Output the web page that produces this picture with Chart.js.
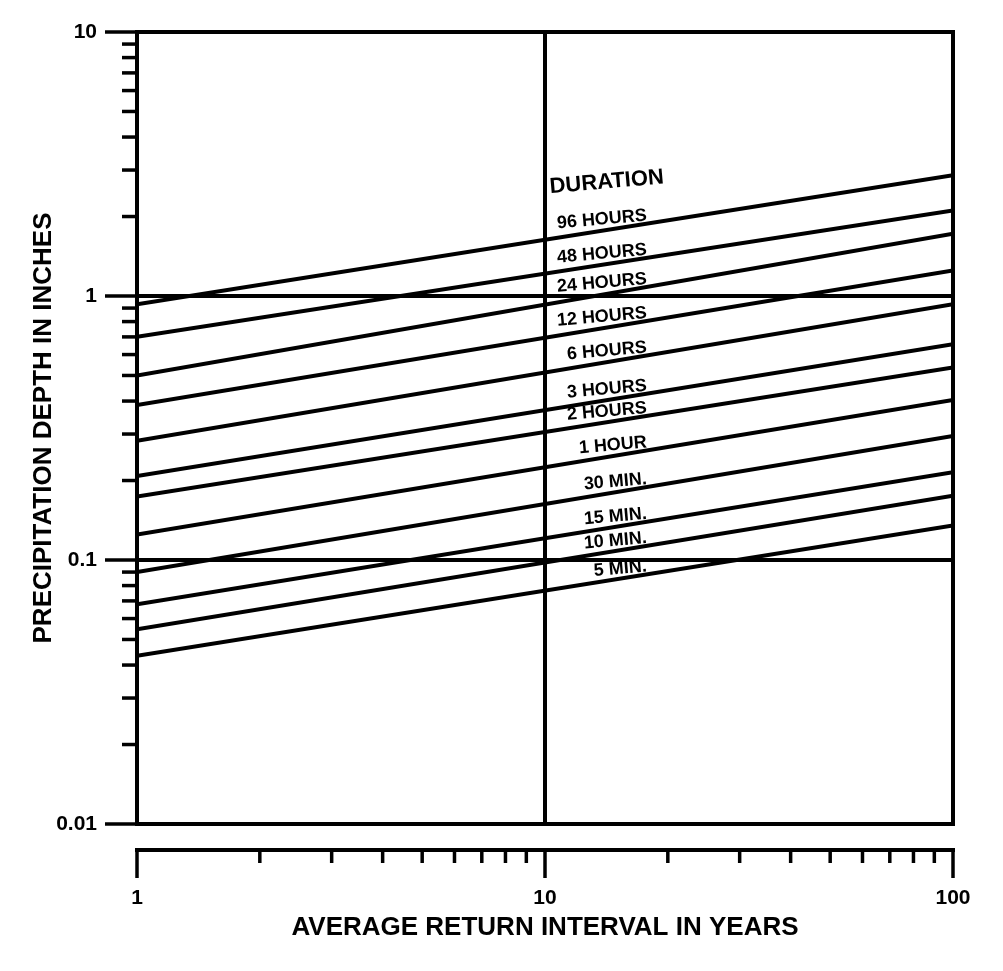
<!DOCTYPE html>
<html>
<head>
<meta charset="utf-8">
<script src="https://cdn.jsdelivr.net/npm/chart.js@4.4.1/dist/chart.umd.min.js"></script>
<style>
  html, body { margin: 0; padding: 0; background: #fff; }
  #c { display: block; }
</style>
</head>
<body>
<canvas id="c" width="1003" height="971"></canvas>
<script>
// ---- data ----
const durations   = ['96 HOURS','48 HOURS','24 HOURS','12 HOURS','6 HOURS','3 HOURS','2 HOURS','1 HOUR','30 MIN.','15 MIN.','10 MIN.','5 MIN.'];
const returnYears = [1, 100];
const depthAt1Year   = [0.93, 0.70, 0.50, 0.386, 0.283, 0.208, 0.174, 0.125, 0.090, 0.068, 0.0546, 0.0434];
const depthAt100Year = [2.87, 2.11, 1.72, 1.25, 0.93, 0.656, 0.536, 0.404, 0.295, 0.215, 0.175, 0.135];
const xTickLabels = [1, 10, 100];
const yTickLabels = [0.01, 0.1, 1, 10];
const xGridValues = [10];
const yGridValues = [0.1, 1];
const legendTitle = 'DURATION';
const xTitle = 'AVERAGE RETURN INTERVAL IN YEARS';
const yTitle = 'PRECIPITATION DEPTH IN INCHES';

const FONT = '"Liberation Sans", Arial, Helvetica, sans-serif';
const near = (v, list) => list.some(t => Math.abs(Math.log10(v) - Math.log10(t)) < 1e-6);

const datasets = durations.map((name, i) => ({
  label: name,
  data: [
    { x: returnYears[0], y: depthAt1Year[i] },
    { x: returnYears[1], y: depthAt100Year[i] }
  ],
  showLine: true,
  borderColor: '#000',
  borderWidth: 4,
  pointRadius: 0,
  tension: 0
}));

function seg(ctx, x1, y1, x2, y2) {
  ctx.beginPath(); ctx.moveTo(x1, y1); ctx.lineTo(x2, y2); ctx.stroke();
}

const paperPlugin = {
  id: 'paperAxes',
  beforeDraw(chart) {
    const ctx = chart.ctx;
    ctx.save();
    ctx.fillStyle = '#fff';
    ctx.fillRect(0, 0, chart.width, chart.height);
    ctx.restore();
  },
  afterDatasetsDraw(chart) {
    const { ctx, chartArea: a, scales } = chart;
    const xs = scales.x, ys = scales.y;
    ctx.save();
    ctx.strokeStyle = '#000';
    ctx.fillStyle = '#000';
    ctx.lineCap = 'butt';
    // frame
    ctx.lineWidth = 4;
    ctx.strokeRect(a.left, a.top, a.right - a.left, a.bottom - a.top);
    // y-axis tick marks (outside, left)
    ctx.lineWidth = 3.5;
    for (let k = -2; k <= 1; k++) {
      for (let m = 1; m <= 9; m++) {
        const v = m * Math.pow(10, k);
        if (v > ys.max * 1.0001) break;
        const py = ys.getPixelForValue(v);
        seg(ctx, a.left, py, a.left - (m === 1 ? 32 : 15), py);
      }
    }
    // detached x-axis line below the frame
    const ay = a.bottom + 26;
    ctx.lineWidth = 4;
    seg(ctx, xs.getPixelForValue(xs.min) - 2, ay, xs.getPixelForValue(xs.max) + 2, ay);
    ctx.lineWidth = 3.5;
    for (let k = 0; k <= 2; k++) {
      for (let m = 1; m <= 9; m++) {
        const v = m * Math.pow(10, k);
        if (v > xs.max * 1.0001) break;
        const px = xs.getPixelForValue(v);
        seg(ctx, px, ay, px, ay + (m === 1 ? 28 : 13));
      }
    }
    // duration labels along each line
    const labelX = 17.8;
    const t = Math.log10(labelX) / Math.log10(returnYears[1] / returnYears[0]);
    ctx.font = 'bold 18px ' + FONT;
    ctx.textAlign = 'right';
    ctx.textBaseline = 'alphabetic';
    durations.forEach((name, i) => {
      const lv = Math.log10(depthAt1Year[i]) + t * (Math.log10(depthAt100Year[i]) - Math.log10(depthAt1Year[i]));
      const px = xs.getPixelForValue(labelX);
      const py = ys.getPixelForValue(Math.pow(10, lv));
      ctx.save();
      ctx.translate(px, py - 3);
      ctx.rotate(-5 * Math.PI / 180);
      ctx.fillText(name, 0, 0);
      ctx.restore();
    });
    // "DURATION" heading
    ctx.save();
    ctx.font = 'bold 22px ' + FONT;
    ctx.textAlign = 'left';
    ctx.translate(xs.getPixelForValue(10.3), ys.getPixelForValue(2.45));
    ctx.rotate(-5 * Math.PI / 180);
    ctx.fillText(legendTitle, 0, 0);
    ctx.restore();
    ctx.restore();
  }
};

new Chart(document.getElementById('c'), {
  type: 'scatter',
  data: { datasets },
  options: {
    responsive: false,
    animation: false,
    layout: { padding: { left: 0, right: 50, top: 32, bottom: 0 } },
    plugins: { legend: { display: false }, tooltip: { enabled: false } },
    scales: {
      x: {
        type: 'logarithmic',
        min: 1, max: 100,
        position: 'bottom',
        border: { display: false },
        grid: {
          drawTicks: false,
          lineWidth: 4,
          color: c => (c.tick && near(c.tick.value, xGridValues)) ? '#000' : 'rgba(0,0,0,0)'
        },
        ticks: {
          autoSkip: false, maxRotation: 0, minRotation: 0,
          padding: 62,
          color: '#000',
          font: { family: FONT, size: 21, weight: 'bold' },
          callback: v => near(v, xTickLabels) ? String(xTickLabels.find(t => near(v, [t]))) : ''
        },
        title: {
          display: true, text: xTitle, color: '#000',
          font: { family: FONT, size: 26, weight: 'bold' },
          padding: { top: 0, bottom: 28 }
        },
        afterFit: s => { s.height = 971 - 824; s.paddingLeft = 0; s.paddingRight = 0; }
      },
      y: {
        type: 'logarithmic',
        min: 0.01, max: 10,
        border: { display: false },
        grid: {
          drawTicks: false,
          lineWidth: 4,
          color: c => (c.tick && near(c.tick.value, yGridValues)) ? '#000' : 'rgba(0,0,0,0)'
        },
        ticks: {
          autoSkip: false,
          padding: 40,
          color: '#000',
          font: { family: FONT, size: 21, weight: 'bold' },
          callback: v => near(v, yTickLabels) ? String(yTickLabels.find(t => near(v, [t]))) : ''
        },
        title: {
          display: true, text: yTitle, color: '#000',
          font: { family: FONT, size: 26, weight: 'bold' },
          padding: { top: 28, bottom: 0 }
        },
        afterFit: s => { s.width = 137; s.paddingTop = 0; s.paddingBottom = 0; }
      }
    }
  },
  plugins: [paperPlugin]
});
</script>
</body>
</html>
